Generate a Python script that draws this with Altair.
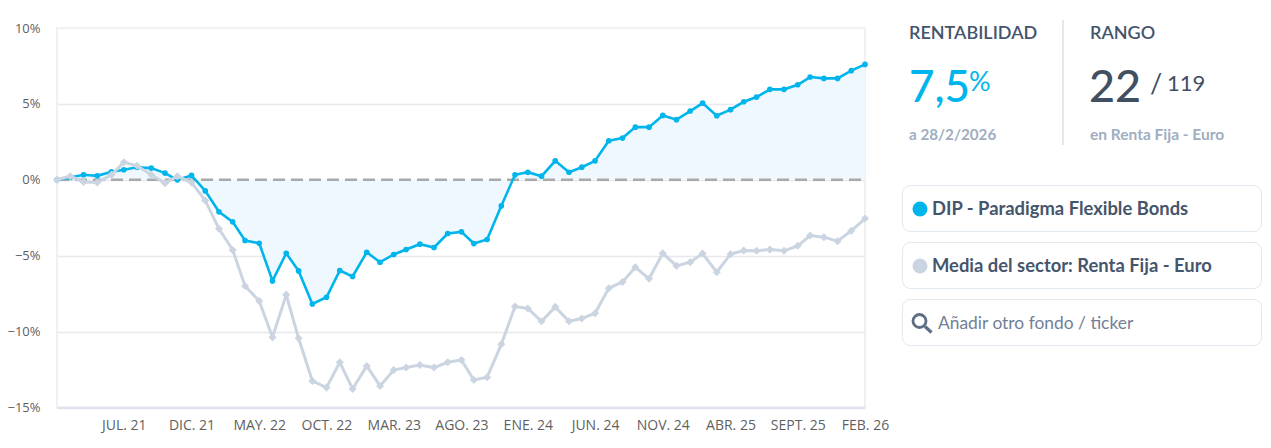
import altair as alt
import pandas as pd

day_offsets = [0,30,60,91,123,151,181,213,244,272,304,335,366,397,425,457,487,518,546,577,609,639,668,700,730,761,789,820,852,883,914,942,972,1004,1035,1064,1095,1126,1157,1186,1216,1247,1278,1307,1338,1369,1400,1431,1459,1491,1522,1552,1581,1611,1643,1674,1702,1733,1764,1795,1826]
fund = [0,0.15,0.33,0.26,0.53,0.66,0.83,0.77,0.44,0.0,0.29,-0.73,-2.11,-2.77,-4.0,-4.18,-6.66,-4.84,-6.0,-8.18,-7.74,-5.98,-6.37,-4.77,-5.43,-4.92,-4.59,-4.24,-4.46,-3.54,-3.43,-4.2,-3.93,-1.72,0.33,0.5,0.24,1.25,0.5,0.83,1.25,2.57,2.75,3.47,3.47,4.24,3.96,4.53,5.05,4.22,4.62,5.14,5.45,5.96,5.96,6.26,6.77,6.68,6.68,7.19,7.6]
sector = [0,0.24,-0.15,-0.18,0.33,1.16,0.92,0.33,-0.22,0.24,-0.18,-1.36,-3.23,-4.62,-6.99,-7.98,-10.37,-7.58,-10.44,-13.25,-13.69,-12.02,-13.78,-12.26,-13.58,-12.53,-12.37,-12.2,-12.37,-12.02,-11.87,-13.19,-13.01,-10.84,-8.35,-8.48,-9.32,-8.37,-9.32,-9.14,-8.79,-7.14,-6.73,-5.76,-6.51,-4.84,-5.67,-5.43,-4.86,-6.09,-4.9,-4.66,-4.68,-4.59,-4.68,-4.35,-3.67,-3.78,-4.04,-3.36,-2.55]
tick_days = [151,304,457,609,761,914,1064,1216,1369,1522,1674,1826]
tick_labels = ["JUL. 21","DIC. 21","MAY. 22","OCT. 22","MAR. 23","AGO. 23","ENE. 24","JUN. 24","NOV. 24","ABR. 25","SEPT. 25","FEB. 26"]
y_ticks = [-15,-10,-5,0,5,10]

BLUE = "#00b5ec"
GRAY = "#cbd5e1"
SLATE = "#45556c"
AXIS_FONT = "Open Sans"
SIDE_FONT = "Lato"

df = pd.DataFrame({"day": day_offsets, "fund": fund, "sector": sector, "zero": [0] * len(day_offsets)})

label_expr = "[" + ",".join(f"'{t}'" for t in tick_labels) + "][indexof([" + ",".join(map(str, tick_days)) + "], datum.value)]"
x = alt.X("day:Q", scale=alt.Scale(domain=[0, 1826], nice=False, zero=False),
          axis=alt.Axis(values=tick_days, labelExpr=label_expr, title=None, grid=False, ticks=False,
                        domainColor="#dfe3f0", domainWidth=2.5, labelFont=AXIS_FONT, labelFontSize=14,
                        labelColor="#5f5f5f", labelPadding=11, labelOverlap=False, labelFlush=False))
y_axis = alt.Axis(values=y_ticks, labelExpr="replace(datum.value + '%', '-', '−')", title=None, ticks=False,
                  domain=False, gridWidth=1.5,
                  gridColor=alt.condition("datum.value == 10 || datum.value == -15", alt.value("#f0f1f5"), alt.value("#e8e8ed")),
                  labelFont=AXIS_FONT, labelFontSize=13,
                  labelColor="#5f5f5f", labelPadding=17)
yscale = alt.Scale(domain=[-15, 10], nice=False)

base = alt.Chart(df)
area = base.mark_area(color="#eff8fe", opacity=1).encode(x=x, y=alt.Y("fund:Q", scale=yscale, axis=y_axis), y2="zero:Q")
zero = base.mark_line(color="#a9a9a9", strokeWidth=2.5, strokeDash=[12, 6]).encode(x="day:Q", y=alt.Y("zero:Q", scale=yscale))
fund_line = base.mark_line(color=BLUE, strokeWidth=2.6).encode(x="day:Q", y=alt.Y("fund:Q", scale=yscale))
fund_pts = base.mark_point(color=BLUE, filled=True, opacity=1, size=32, shape="circle").encode(x="day:Q", y=alt.Y("fund:Q", scale=yscale))
sec_line = base.mark_line(color=GRAY, strokeWidth=3).encode(x="day:Q", y=alt.Y("sector:Q", scale=yscale))
sec_pts = base.mark_point(color=GRAY, filled=True, opacity=1, size=65, shape="diamond").encode(x="day:Q", y=alt.Y("sector:Q", scale=yscale))

# Page coordinates -> plot-group coordinates
OX, OY = 57, 28


def px(v):
    return alt.value(v - OX)


def py(v):
    return alt.value(v - OY)


def txt(s, x0, y0, size, color, weight=400, font=SIDE_FONT):
    return alt.Chart(df.head(1)).mark_text(text=s, align="left", baseline="alphabetic", fontSize=size, color=color,
                                           fontWeight=weight, font=font).encode(x=px(x0), y=py(y0))


def box(y0, y1):
    return alt.Chart(df.head(1)).mark_rect(fill="white", stroke="#e2e8f0", strokeWidth=1, cornerRadius=8).encode(
        x=px(902.5), x2=px(1261.5), y=py(y0), y2=py(y1))


def dot(cx, cy, color):
    return alt.Chart(df.head(1)).mark_point(filled=True, color=color, opacity=1, size=225, shape="circle").encode(x=px(cx), y=py(cy))


side = [
    txt("RENTABILIDAD", 909, 39, 18, SLATE, 600),
    txt("7,5", 909, 102, 44, BLUE, 500),
    txt("%", 969, 91, 27, BLUE, 400),
    txt("RANGO", 1090, 39, 18, SLATE, 600),
    txt("22", 1089, 102, 45, "#414f63", 500),
    txt("/", 1150, 93, 27, "#414f63", 400),
    txt("119", 1167, 91, 22, "#414f63", 400),
    txt("a 28/2/2026", 909, 140, 15.2, "#a0aec0", 700),
    txt("en Renta Fija - Euro", 1090, 140, 15.5, "#a0aec0", 700),
    alt.Chart(df.head(1)).mark_rule(color="#e2e8f0", strokeWidth=2).encode(x=px(1063), y=py(20), y2=py(145)),
    box(185.5, 231.5), box(242.5, 288.5), box(299.5, 345.5),
    dot(920, 209, BLUE), dot(920, 266, GRAY),
    txt("DIP - Paradigma Flexible Bonds", 932, 215, 18.4, SLATE, 700),
    txt("Media del sector: Renta Fija - Euro", 932, 272, 18.4, SLATE, 700),
    alt.Chart(df.head(1)).mark_point(filled=False, color="#5d6f85", opacity=1, size=170, strokeWidth=2.8, shape="circle").encode(x=px(919.5), y=py(321)),
    alt.Chart(df.head(1)).mark_rule(color="#5d6f85", strokeWidth=3.2).encode(x=px(925), x2=px(931.5), y=py(326.5), y2=py(332.5)),
    txt("Añadir otro fondo / ticker", 938, 329, 17.4, "#718096", 400),
]

chart = alt.layer(area, zero, fund_line, fund_pts, sec_line, sec_pts, *side).properties(
    width=808, height=379.5,
    autosize=alt.AutoSizeParams(type="none"),
    padding={"left": 49, "top": 20, "right": 398, "bottom": 32},
    background="white",
).configure_view(stroke="#eff0f5", strokeWidth=2)

chart.save("out.html", embed_options={"renderer": "svg", "actions": False})
